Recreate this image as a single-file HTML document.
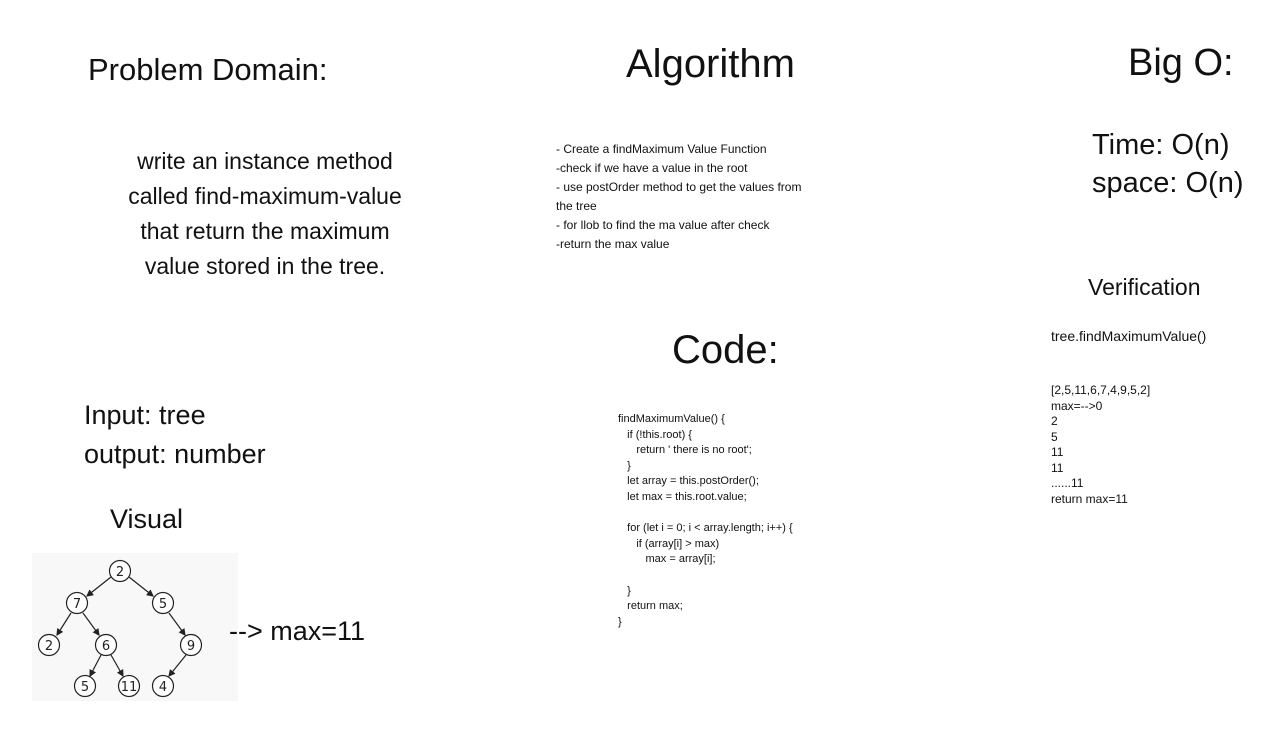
<!DOCTYPE html>
<html><head><meta charset="utf-8"><style>
body{margin:0;width:1280px;height:736px;background:#fff;position:relative;font-family:"Liberation Sans",sans-serif;color:#111;overflow:hidden}
.t{position:absolute;white-space:nowrap;z-index:2}
pre.t{margin:0;font-family:"Liberation Sans",sans-serif;white-space:pre}
</style></head><body>
<div class="t" style="left:88px;top:52px;font-size:31px">Problem Domain:</div>
<div class="t" style="left:626px;top:42px;font-size:40px">Algorithm</div>
<div class="t" style="left:1128px;top:42px;font-size:38px">Big O:</div>
<div class="t" style="left:80px;top:144px;width:370px;text-align:center;font-size:23px;line-height:35px">write an instance method<br>called find-maximum-value<br>that return the maximum<br>value stored in the tree.</div>
<div class="t" style="left:556px;top:140px;font-size:12px;line-height:19px">- Create a findMaximum Value Function<br>-check if we have a value in the root<br>- use postOrder method to get the values from<br>the tree<br>- for llob to find the ma value after check<br>-return the max value</div>
<div class="t" style="left:1092px;top:126px;font-size:29px;line-height:38px">Time: O(n)<br>space: O(n)</div>
<div class="t" style="left:1088px;top:274px;font-size:23px">Verification</div>
<div class="t" style="left:1051px;top:328px;font-size:14px">tree.findMaximumValue()</div>
<div class="t" style="left:1051px;top:383px;font-size:12px;line-height:15.5px">[2,5,11,6,7,4,9,5,2]<br>max=--&gt;0<br>2<br>5<br>11<br>11<br>......11<br>return max=11</div>
<div class="t" style="left:672px;top:328px;font-size:40px">Code:</div>
<pre class="t" style="left:618px;top:412px;font-size:11px;line-height:15.6px">findMaximumValue() {
   if (!this.root) {
      return ' there is no root';
   }
   let array = this.postOrder();
   let max = this.root.value;

   for (let i = 0; i &lt; array.length; i++) {
      if (array[i] &gt; max)
         max = array[i];

   }
   return max;
}</pre>
<div class="t" style="left:84px;top:396px;font-size:27px;line-height:39px">Input:  tree<br>output: number</div>
<div class="t" style="left:110px;top:504px;font-size:27px">Visual</div>
<div class="t" style="left:229px;top:616px;font-size:27px">--&gt; max=11</div>
<svg style="position:absolute;left:32px;top:553px" width="206" height="148" viewBox="32 553 206 148">
<defs><marker id="a" markerWidth="6" markerHeight="6" refX="5" refY="3" orient="auto"><path d="M0,0L6,3L0,6z" fill="#222"/></marker></defs>
<rect x="32" y="553" width="206" height="148" fill="#f8f8f8"/>
<g stroke="#222" stroke-width="1.2" marker-end="url(#a)">
<line x1="111" y1="577" x2="87" y2="596"/><line x1="129" y1="577" x2="153" y2="596"/>
<line x1="71" y1="613" x2="57" y2="635"/><line x1="83" y1="613" x2="99" y2="635"/>
<line x1="169" y1="613" x2="185" y2="635"/>
<line x1="101" y1="655" x2="90" y2="676"/><line x1="111" y1="655" x2="123" y2="676"/>
<line x1="186" y1="655" x2="169" y2="676"/>
</g>
<g fill="#fff" stroke="#222" stroke-width="1.2">
<circle cx="120" cy="571" r="10.5"/><circle cx="77" cy="603" r="10.5"/><circle cx="163" cy="603" r="10.5"/>
<circle cx="49" cy="645" r="10.5"/><circle cx="106" cy="645" r="10.5"/><circle cx="191" cy="645" r="10.5"/>
<circle cx="85" cy="686" r="10.5"/><circle cx="129" cy="686" r="10.5"/><circle cx="163" cy="686" r="10.5"/>
</g>
<g font-family="DejaVu Sans,sans-serif" font-size="13" text-anchor="middle" fill="#222">
<text x="120" y="576">2</text><text x="77" y="608">7</text><text x="163" y="608">5</text>
<text x="49" y="650">2</text><text x="106" y="650">6</text><text x="191" y="650">9</text>
<text x="85" y="691">5</text><text x="129" y="691">11</text><text x="163" y="691">4</text>
</g></svg>
</body></html>
